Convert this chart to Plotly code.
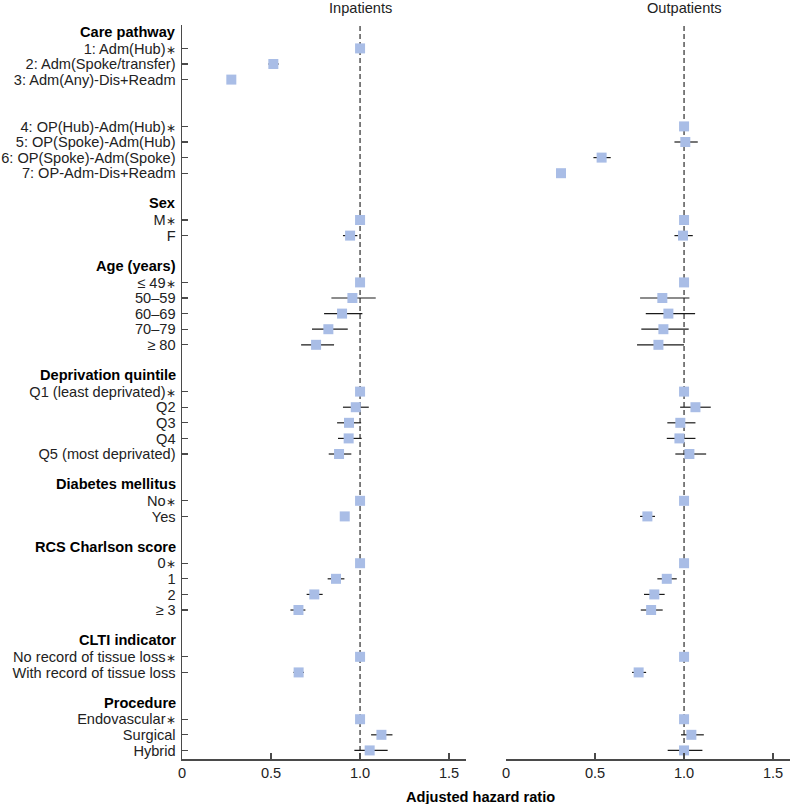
import plotly.graph_objects as go

# ---- data ----
group_names = ["Care pathway", "Sex", "Age (years)", "Deprivation quintile",
               "Diabetes mellitus", "RCS Charlson score", "CLTI indicator", "Procedure"]
STAR = "<span style='font-size:12px'>∗</span>"
group_items = [
    ["1: Adm(Hub)" + STAR, "2: Adm(Spoke/transfer)", "3: Adm(Any)-Dis+Readm", "", "",
     "4: OP(Hub)-Adm(Hub)" + STAR, "5: OP(Spoke)-Adm(Hub)", "6: OP(Spoke)-Adm(Spoke)", "7: OP-Adm-Dis+Readm"],
    ["M" + STAR, "F"],
    ["≤ 49" + STAR, "50–59", "60–69", "70–79", "≥ 80"],
    ["Q1 (least deprivated)" + STAR, "Q2", "Q3", "Q4", "Q5 (most deprivated)"],
    ["No" + STAR, "Yes"],
    ["0" + STAR, "1", "2", "≥ 3"],
    ["No record of tissue loss" + STAR, "With record of tissue loss"],
    ["Endovascular" + STAR, "Surgical", "Hybrid"],
]

# Inpatients (None = not estimated)
in_hr = [1.0, 0.513, 0.277, None, None, None, None,
         1.0, 0.944,
         1.0, 0.957, 0.899, 0.822, 0.753,
         1.0, 0.976, 0.938, 0.936, 0.882,
         1.0, 0.914,
         1.0, 0.865, 0.743, 0.654,
         1.0, 0.655,
         1.0, 1.120, 1.054]
in_lo = [1.0, 0.485, 0.262, None, None, None, None,
         1.0, 0.904,
         1.0, 0.839, 0.798, 0.730, 0.669,
         1.0, 0.904, 0.871, 0.876, 0.824,
         1.0, 0.890,
         1.0, 0.818, 0.700, 0.609,
         1.0, 0.626,
         1.0, 1.062, 0.968]
in_hi = [1.0, 0.543, 0.292, None, None, None, None,
         1.0, 0.985,
         1.0, 1.088, 1.013, 0.931, 0.854,
         1.0, 1.049, 1.006, 1.009, 0.951,
         1.0, 0.938,
         1.0, 0.912, 0.790, 0.693,
         1.0, 0.685,
         1.0, 1.182, 1.155]

# Outpatients
out_hr = [None, None, None, 1.0, 1.007, 0.537, 0.309,
          1.0, 0.994,
          1.0, 0.878, 0.912, 0.884, 0.856,
          1.0, 1.064, 0.979, 0.974, 1.030,
          1.0, 0.794,
          1.0, 0.903, 0.833, 0.815,
          1.0, 0.745,
          1.0, 1.041, 1.0]
out_lo = [None, None, None, 1.0, 0.946, 0.491, 0.293,
          1.0, 0.946,
          1.0, 0.753, 0.785, 0.760, 0.736,
          1.0, 0.978, 0.906, 0.903, 0.951,
          1.0, 0.753,
          1.0, 0.850, 0.775, 0.757,
          1.0, 0.708,
          1.0, 0.983, 0.908]
out_hi = [None, None, None, 1.0, 1.077, 0.588, 0.326,
          1.0, 1.049,
          1.0, 1.030, 1.062, 1.026, 1.000,
          1.0, 1.150, 1.064, 1.064, 1.124,
          1.0, 0.837,
          1.0, 0.959, 0.891, 0.880,
          1.0, 0.787,
          1.0, 1.111, 1.103]

x_ticks = [0, 0.5, 1.0, 1.5]
x_ticktext = ["0", "0.5", "1.0", "1.5"]
panel_titles = ["Inpatients", "Outpatients"]

# ---- row layout ----
header_pos = []
item_pos = []
item_labels = []
r = 0
for g, items in zip(group_names, group_items):
    header_pos.append(r)
    r += 1
    for it in items:
        if it != "":
            item_pos.append(r)
            item_labels.append(it)
        r += 1
    r += 1
last_row = item_pos[-1]

FONT = "Liberation Sans, Arial, Helvetica, sans-serif"
FS = 14.6
MARKER = "#a9bde6"
ERR = "#1a1a1a"
AX = "#4a4a4a"

W, H = 790, 804
L, T, B = 182, 25, 45
PW = W - L


def err(hr, lo, hi):
    plus = [None if h is None else hh - h for h, hh in zip(hr, hi)]
    minus = [None if h is None else h - ll for h, ll in zip(hr, lo)]
    return plus, minus


fig = go.Figure()
for xa, hr, lo, hi in [("x", in_hr, in_lo, in_hi), ("x2", out_hr, out_lo, out_hi)]:
    p, m = err(hr, lo, hi)
    fig.add_trace(go.Scatter(
        x=hr, y=item_pos, xaxis=xa, yaxis="y", mode="markers",
        marker=dict(symbol="square", size=10, color=MARKER, line=dict(width=0)),
        error_x=dict(type="data", symmetric=False, array=p, arrayminus=m,
                     color=ERR, thickness=1.2, width=0),
        showlegend=False, hoverinfo="skip"))

yr = [last_row + 0.55, -0.5]
common_x = dict(range=[0, 1.595], tickvals=x_ticks, ticktext=x_ticktext,
                ticks="inside", ticklen=6, tickwidth=1.3, tickcolor=AX,
                showline=True, linecolor=AX, linewidth=1.5, showgrid=False,
                zeroline=False, tickfont=dict(family=FONT, size=FS, color="#222"),
                anchor="y", automargin=False)
fig.update_layout(
    width=W, height=H, autosize=False,
    margin=dict(l=L, r=0, t=T, b=B, autoexpand=False),
    plot_bgcolor="white", paper_bgcolor="white",
    font=dict(family=FONT, size=FS, color="#222"),
    xaxis=dict(domain=[0, 284 / PW], **common_x),
    xaxis2=dict(domain=[324 / PW, 1.0], **common_x),
    yaxis=dict(range=yr, tickvals=item_pos, ticktext=item_labels,
               ticks="inside", ticklen=6, tickwidth=1.3, tickcolor=AX,
               showline=True, linecolor=AX, linewidth=1.5, showgrid=False,
               zeroline=False, ticklabelstandoff=2, automargin=False,
               tickfont=dict(family=FONT, size=FS, color="#222")),
)

shapes = []
for xa in ["x", "x2"]:
    shapes.append(dict(type="line", xref=xa, yref="paper", x0=1, x1=1, y0=0, y1=1,
                       line=dict(color="#555", width=1.5, dash="5px,3px"), layer="below"))
fig.update_layout(shapes=shapes)

ann = []
for g, yp in zip(group_names, header_pos):
    ann.append(dict(text="<b>" + g + "</b>", xref="paper", yref="y", x=0, y=yp,
                    xanchor="right", yanchor="middle", xshift=-4, yshift=1, showarrow=False,
                    font=dict(family=FONT, size=FS, color="#000")))
for t, xa in zip(panel_titles, ["x", "x2"]):
    ann.append(dict(text=t, xref=xa, yref="paper", x=1.0, y=1, xanchor="center",
                    yanchor="bottom", yshift=7, showarrow=False,
                    font=dict(family=FONT, size=FS, color="#222")))
ann.append(dict(text="<b>Adjusted hazard ratio</b>", xref="paper", yref="paper",
                x=(480 - 182) / PW, y=0, xanchor="center", yanchor="top", yshift=-28,
                showarrow=False, font=dict(family=FONT, size=FS, color="#000")))
fig.update_layout(annotations=ann)

fig.write_html("out.html",
               config={"displayModeBar": False, "staticPlot": True},
               post_script="document.body.style.margin='0px';document.body.style.overflow='hidden';")
